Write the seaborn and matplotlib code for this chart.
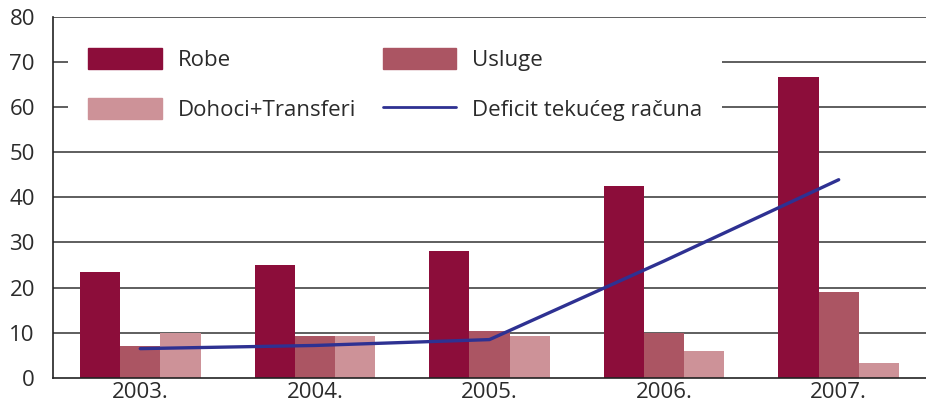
import numpy as np
import pandas as pd
import matplotlib
matplotlib.use("Agg")
import matplotlib.pyplot as plt
import matplotlib.patches as mpatches
import matplotlib.lines as mlines
import seaborn as sns

# Podaci
godine = ["2003.", "2004.", "2005.", "2006.", "2007."]
robe = [23.4, 25.0, 28.1, 42.5, 66.7]
usluge = [7.0, 9.2, 10.5, 9.9, 19.0]
dohoci = [9.9, 9.2, 9.2, 5.9, 3.3]
deficit = [6.5, 7.2, 8.5, 25.9, 43.9]

serije = ["Robe", "Usluge", "Dohoci+Transferi"]
boje = ["#8c0d3a", "#ab5563", "#cd9298"]
boja_linije = "#2e3192"

df = pd.DataFrame({"godina": godine * 3,
                   "serija": np.repeat(serije, len(godine)),
                   "vrijednost": robe + usluge + dohoci})

sns.set_theme(style="white")
plt.rcParams["font.family"] = ["Open Sans", "DejaVu Sans"]
txt = "#2b2b2b"

fig = plt.figure(figsize=(9.26, 4.07), dpi=100)
ax = fig.add_axes([0.0572, 0.0713, 0.9428, 0.8877])

# Mreza
for v in range(10, 90, 10):
    ax.axhline(v, color="#333333", lw=1.1, zorder=0)

sns.barplot(data=df, x="godina", y="vrijednost", hue="serija", order=godine,
            hue_order=serije, palette=boje, width=0.69, gap=0,
            saturation=1, legend=False, ax=ax, zorder=2, linewidth=0,
            edgecolor="none")

sns.lineplot(x=np.arange(len(godine)), y=deficit, color=boja_linije, lw=2.4,
             ax=ax, zorder=4)

ax.set_xlim(-0.5, len(godine) - 0.5)
ax.set_ylim(0, 80)
ax.set_yticks(range(0, 90, 10))
ax.set_xlabel("")
ax.set_ylabel("")

# Kvacice na granicama kategorija
ax.set_xticks(np.arange(len(godine) - 1) + 0.5, minor=True)
ax.set_xticks(np.arange(len(godine)))
ax.set_xticklabels(godine)
ax.tick_params(axis="x", which="major", length=0, pad=3, labelsize=16, labelcolor=txt)
ax.tick_params(axis="x", which="minor", length=9, width=1.1, color="#333333", direction="out")
ax.tick_params(axis="y", length=11, width=1.1, color="#333333", direction="out",
               labelsize=16, labelcolor=txt, pad=2)

for s in ["top", "right"]:
    ax.spines[s].set_visible(False)
for s in ["left", "bottom"]:
    ax.spines[s].set_color("#222222")
    ax.spines[s].set_linewidth(1.2)

handles = [mpatches.Patch(color=boje[0], label="Robe"),
           mpatches.Patch(color=boje[2], label="Dohoci+Transferi"),
           mpatches.Patch(color=boje[1], label="Usluge"),
           mlines.Line2D([], [], color=boja_linije, lw=2, label="Deficit tekućeg računa")]
leg = ax.legend(handles=handles, ncol=2, loc="upper left",
                bbox_to_anchor=(0.005, 0.999), frameon=True, fontsize=16,
                handlelength=3.3, handleheight=1.1, handletextpad=0.72,
                labelspacing=1.2, columnspacing=1.2, borderpad=0.9,
                fancybox=False)
leg.get_frame().set_facecolor("white")
leg.get_frame().set_edgecolor("none")
leg.get_frame().set_alpha(1)
leg.set_zorder(5)
for t in leg.get_texts():
    t.set_color(txt)

fig.savefig("out.png", dpi=100)
